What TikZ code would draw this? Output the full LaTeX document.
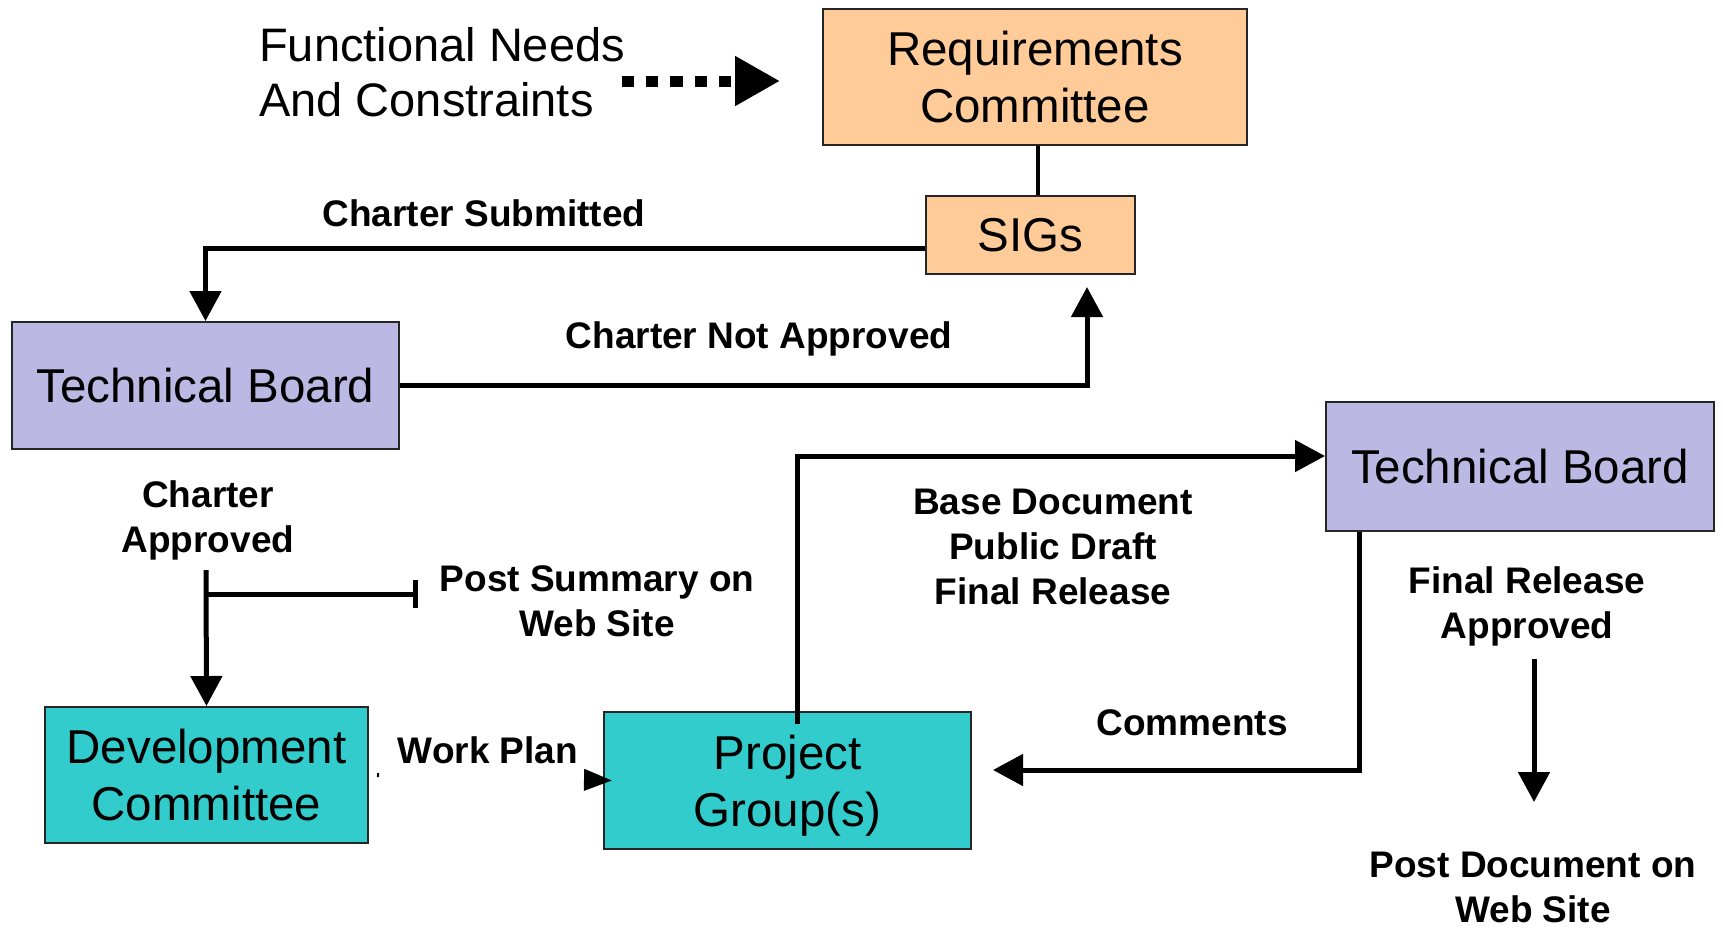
\documentclass[tikz,border=0pt]{standalone}
\usepackage{fontspec}
\setmainfont{Liberation Sans}
\usetikzlibrary{arrows.meta,calc}
\definecolor{peach}{RGB}{255,204,153}
\definecolor{lav}{RGB}{187,185,227}
\definecolor{teal2}{RGB}{51,204,204}
\begin{document}
\begin{tikzpicture}[x=1pt,y=-1pt,
  box/.style={draw=black!85, line width=2pt, inner sep=0pt, align=center, font=\fontsize{47.5pt}{57pt}\selectfont},
  lbl/.style={inner sep=0pt, align=center, font=\bfseries\fontsize{37pt}{45pt}\selectfont},
  arr/.style={line width=5pt, -{Triangle[length=30pt,width=31pt]}},
]
\useasboundingbox (0,0) rectangle (1723,927);
\fill[white] (0,0) rectangle (1723,927);

\node[box, fill=peach, minimum width=424pt, minimum height=136pt] (req) at (1035,77) {Requirements\\Committee};
\node[box, fill=peach, minimum width=209pt, minimum height=78pt] (sigs) at (1030.5,235) {SIGs};
\node[box, fill=lav, minimum width=387pt, minimum height=127pt] (tb1) at (205.5,385.5) {Technical Board};
\node[box, fill=lav, minimum width=388pt, minimum height=129pt] (tb2) at (1520,466.5) {Technical Board};
\node[box, fill=teal2, minimum width=323pt, minimum height=136pt] (dev) at (206.5,775) {Development\\Committee};
\node[box, fill=teal2, minimum width=367pt, minimum height=137pt, text depth=0pt] (proj) at (787.5,780.5) {Project\\Group(s)};

\node[inner sep=0pt, align=left, anchor=west, font=\fontsize{47pt}{55pt}\selectfont] (fn) at (259,72) {Functional Needs\\And Constraints};
\node[lbl] (cs) at (484,213) {Charter Submitted};
\node[lbl] (cna) at (759,339) {Charter Not Approved};
\node[lbl] (ca) at (208,520) {Charter\\Approved};
\node[lbl] (ps) at (597,601) {Post Summary on\\Web Site};
\node[lbl] (wpl) at (488,750) {Work Plan};
\node[lbl] (bd) at (1053,547) {Base Document\\Public Draft\\Final Release};
\node[lbl] (cm) at (1192,723) {Comments};
\node[lbl] (fra) at (1527,606) {Final Release\\Approved};
\node[lbl] (pd) at (1533,887) {Post Document on\\Web Site};

\draw[line width=4pt] ($(req.south)+(3,0)$) -- ($(sigs.north)+(7.5,0)$);
\draw[arr] ($(sigs.west)+(0,13)$) -| (tb1.north);
\draw[arr] (tb1.east) -| ($(sigs.south)+(56.5,12)$);
\coordinate (fns) at (622,81);
\draw[line width=11pt, dash pattern=on 12.1pt off 12.1pt, -{Triangle[length=45pt,width=47pt]}] (fns) -- ($(req.west |- fns)+(-42,0)$);
\coordinate (cat) at (206,570);
\coordinate (cab) at (203.5,594);
\coordinate (pse) at (418,594);
\draw[arr] (cat) -- (dev.north);
\draw[line width=5pt, -{Bar[width=28pt]}] (cab) -- (pse);
\draw[line width=4pt, dash pattern=on 0pt off 8pt on 2pt off 2000pt, -{Triangle[length=28pt,width=21pt]}] (dev.east) -- ($(proj.west)+(9,0)$);
\draw[arr] ($(proj.north)+(9.5,13)$) |- ($(tb2.west)+(0,-10.5)$);
\draw[arr] ($(tb2.south)+(-161,0)$) |- ($(proj.east)+(21,-10.5)$);
\coordinate (fr1) at (1534,659);
\coordinate (fr2) at (1534,802);
\draw[arr] (fr1) -- (fr2);
\end{tikzpicture}
\end{document}
